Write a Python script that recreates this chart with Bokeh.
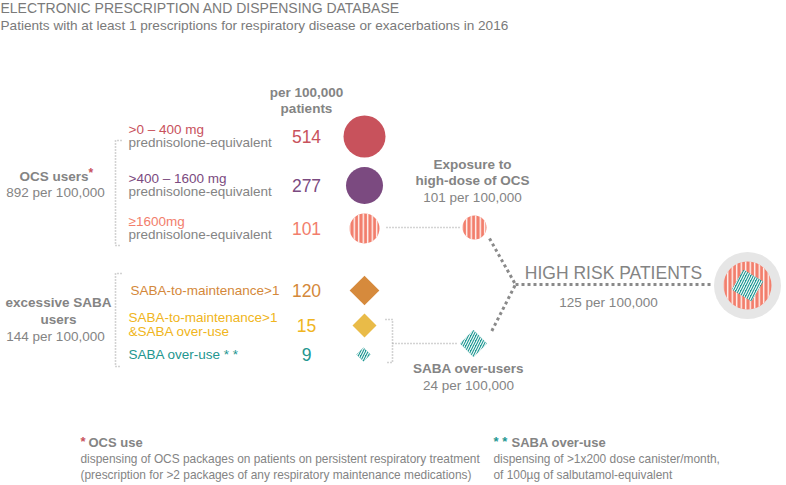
from bokeh.plotting import figure
from bokeh.models import Range1d, ColumnDataSource
from bokeh.core.properties import value
from bokeh.embed import file_html
from bokeh.resources import INLINE
import math

# ---------------- data ----------------
title = "ELECTRONIC PRESCRIPTION AND DISPENSING DATABASE"
subtitle = "Patients with at least 1 prescriptions for respiratory disease or exacerbations in 2016"

ocs_ranges = [">0 \u2013 400 mg", ">400 \u2013 1600 mg", "\u22651600mg"]
ocs_unit = "prednisolone-equivalent"
ocs_values = [514, 277, 101]
ocs_total = 892

saba_labels = [["SABA-to-maintenance>1"], ["SABA-to-maintenance>1", "&SABA over-use"], ["SABA over-use * *"]]
saba_values = [120, 15, 9]
saba_total = 144

high_dose_ocs = 101
saba_over_users = 24
high_risk = 125

# ---------------- style / layout ----------------
FONT = "Liberation Sans"
GRAY = "#848484"
LINE = "#a8a8a8"
ocs_colors = ["#c8525c", "#7b4a80", "#f27e6c"]
saba_text_colors = ["#d4883a", "#f0b520", "#23968f"]
saba_fill = ["#d68a3c", "#e9bb48", "#1f9893"]

row_y_ocs = [136, 185, 228]
row_y_saba = [290, 325, 354]
circle_d = [42, 37, 30]
diamond_side = [21, 17, 10]

W, H = 786, 485
p = figure(width=W, height=H, output_backend="svg", toolbar_location=None,
           x_range=Range1d(0, W), y_range=Range1d(H, 0),
           x_axis_type=None, y_axis_type=None, min_border=0)
p.grid.visible = False
p.outline_line_color = None
p.background_fill_color = "white"
p.border_fill_color = "white"


def txt(x, y, s, color=GRAY, size=13.5, bold=False, align="left", font=FONT):
    p.text(x=[x], y=[y], text=[s], text_color=color, text_font=value(font),
           text_font_size=f"{size}px", text_font_style="bold" if bold else "normal",
           text_align=align, text_baseline="middle")

# header
txt(0, 7, title, color="#7a7a7a", size=14)
txt(0, 25, subtitle, color="#7a7a7a", size=13.6)

# column header
txt(306, 92, "per 100,000", bold=True, align="center")
txt(306, 108, "patients", bold=True, align="center")

# ---------------- connector lines ----------------
thin = dict(line_color=LINE, line_width=1.6, line_dash="1 2")
p.line([121, 115, 115, 121], [140, 140, 245, 245], **thin)
p.line([121, 115, 115, 121], [273, 273, 366, 366], **thin)
p.line([385, 392, 392, 385], [319, 319, 362, 362], **thin)
p.line([392, 458], [343, 343], **thin)
p.line([386, 459], [227, 227], **thin)

thick = dict(line_color="#8a8a8a", line_width=3, line_dash="3 3")
p.line([489, 515, 490], [238, 284, 333], **thick)
p.line([515, 712], [284, 284], **thick)

# ---------------- OCS rows ----------------
txt(88, 176, "OCS users", bold=True, align="right")
txt(88, 172, "*", color=ocs_colors[0], size=12, bold=True)
txt(55, 192, f"{ocs_total} per 100,000", align="center")

for i in range(3):
    y = row_y_ocs[i]
    txt(128, y - 7, ocs_ranges[i], color=ocs_colors[i])
    txt(128, y + 6, ocs_unit)
    txt(306, y, str(ocs_values[i]), color=ocs_colors[i], size=17.5, align="center")

src_c = ColumnDataSource(dict(x=[364, 364], y=row_y_ocs[:2], s=circle_d[:2], c=ocs_colors[:2]))
p.scatter("x", "y", size="s", fill_color="c", line_color=None, marker="circle", source=src_c)

hatch = dict(hatch_pattern="|", hatch_color="white", hatch_weight=1.3, hatch_scale=4.5)
p.scatter([364], [row_y_ocs[2]], size=circle_d[2], marker="circle", fill_color=ocs_colors[2],
          line_color=None, **hatch)

# high dose OCS node
txt(472, 164, "Exposure to", bold=True, align="center")
txt(472, 180, "high-dose of OCS", bold=True, align="center")
txt(472, 197, f"{high_dose_ocs} per 100,000", align="center")
p.scatter([474], [227], size=24, marker="circle", fill_color=ocs_colors[2], line_color=None, **hatch)

# ---------------- SABA rows ----------------
txt(58, 302, "excessive SABA", bold=True, align="center")
txt(58, 319, "users", bold=True, align="center")
txt(55, 336, f"{saba_total} per 100,000", align="center")

for i in range(3):
    y = row_y_saba[i]
    lines = saba_labels[i]
    if len(lines) == 1:
        txt(130 if i == 0 else 128, y, lines[0], color=saba_text_colors[i])
    else:
        txt(128, y - 8, lines[0], color=saba_text_colors[i])
        txt(128, y + 6, lines[1], color=saba_text_colors[i])
    txt(306, y, str(saba_values[i]), color=saba_text_colors[i], size=17.5, align="center")

src_d = ColumnDataSource(dict(x=[364, 364], y=row_y_saba[:2], s=diamond_side[:2], c=saba_fill[:2]))
p.scatter("x", "y", size="s", fill_color="c", line_color=None, marker="square",
          angle=math.pi / 4, source=src_d)

dhatch = dict(hatch_pattern="/", hatch_color="white", hatch_weight=1.1, hatch_scale=5)
p.scatter([363], [row_y_saba[2]], size=diamond_side[2], marker="square", angle=math.pi / 4,
          fill_color=saba_fill[2], line_color=None, **dhatch)

# SABA over-users node
p.scatter([473], [343], size=19, marker="square", angle=math.pi / 4,
          fill_color=saba_fill[2], line_color=None, **dhatch)
txt(468, 368, "SABA over-users", bold=True, align="center")
txt(468, 385, f"{saba_over_users} per 100,000", align="center")

# ---------------- high risk ----------------
txt(613, 272, "HIGH RISK PATIENTS", size=17.5, align="center")
txt(608, 302, f"{high_risk} per 100,000", align="center")
p.scatter([747], [285], size=67, marker="circle", fill_color="#e6e6e6", line_color=None)
p.scatter([747], [285], size=48, marker="circle", fill_color=ocs_colors[2], line_color=None, **hatch)
p.scatter([747], [285], size=23, marker="square", angle=math.pi / 4 + 0.25,
          fill_color=saba_fill[2], line_color=None, **dhatch)

# ---------------- footnotes ----------------
FS = 11.9
txt(80, 441, "*", color=ocs_colors[0], size=13, bold=True)
txt(88, 442, "OCS use", size=13, bold=True)
txt(80, 458, "dispensing of OCS packages on patients on persistent respiratory treatment", size=FS)
txt(80, 474, "(prescription for >2 packages of any respiratory maintenance medications)", size=FS)

txt(493, 441, "* *", color=saba_fill[2], size=13, bold=True)
txt(511, 442, "SABA over-use", size=13, bold=True)
txt(493, 458, "dispensing of >1x200 dose canister/month,", size=FS)
txt(493, 474, "of 100\u00b5g of salbutamol-equivalent", size=FS)

open("out.html", "w").write(file_html(p, INLINE))
